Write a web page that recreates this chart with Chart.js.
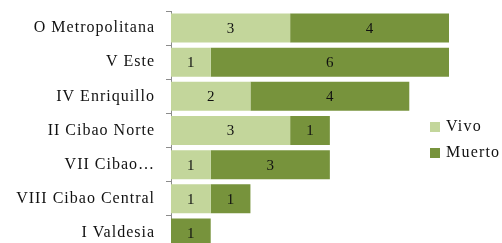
<!DOCTYPE html>
<html>
<head>
<meta charset="utf-8">
<script src="https://cdn.jsdelivr.net/npm/chart.js"></script>
<style>
  html, body { margin: 0; padding: 0; background: #fff; overflow: hidden; }
  #wrap { width: 502px; height: 260px; position: relative; }
</style>
</head>
<body>
<div id="wrap"><canvas id="myChart"></canvas></div>
<script>
const categories = ['O Metropolitana', 'V Este', 'IV Enriquillo', 'II Cibao Norte', 'VII Cibao…', 'VIII Cibao Central', 'I Valdesia'];
const vivo = [3, 1, 2, 3, 1, 1, null];
const muerto = [4, 6, 4, 1, 3, 1, 1];
const seriesNames = ['Vivo', 'Muerto'];
const xMax = 7;

const fontFamily = "'Liberation Serif', 'DejaVu Serif', serif";

// the original font is a wide garamond, so space the letters out a bit
const wideText = {
    id: 'wideText',
    beforeDraw(chart) {
        chart.ctx.letterSpacing = '1px';
    }
};

// values in the middle of each segment
const segmentLabels = {
    id: 'segmentLabels',
    afterDatasetsDraw(chart) {
        const ctx = chart.ctx;
        ctx.save();
        ctx.letterSpacing = '0px';
        ctx.font = '15px ' + fontFamily;
        ctx.fillStyle = '#111';
        ctx.textAlign = 'center';
        ctx.textBaseline = 'middle';
        chart.data.datasets.forEach((ds, i) => {
            chart.getDatasetMeta(i).data.forEach((bar, j) => {
                const v = ds.data[j];
                if (v == null) return;
                const cx = (bar.x + bar.base) / 2;
                ctx.fillText(String(v), cx, bar.y + 1);
            });
        });
        ctx.restore();
    }
};

// legend sits over the plot area, like the original
const sideLegend = {
    id: 'sideLegend',
    afterDraw(chart) {
        const ctx = chart.ctx;
        ctx.save();
        ctx.letterSpacing = '1.2px';
        ctx.font = '16px ' + fontFamily;
        ctx.textBaseline = 'middle';
        ctx.textAlign = 'left';
        chart.data.datasets.forEach((ds, i) => {
            const y = 127 + i * 26;
            ctx.fillStyle = ds.backgroundColor;
            ctx.fillRect(430, y - 5, 10, 10);
            ctx.fillStyle = '#111';
            ctx.fillText(ds.label, 446, y);
        });
        ctx.restore();
    }
};

new Chart(document.getElementById('myChart'), {
    type: 'bar',
    data: {
        labels: categories,
        datasets: [{
            label: seriesNames[0],
            data: vivo,
            backgroundColor: '#C3D69B',
            borderWidth: 0,
            categoryPercentage: 1,
            barPercentage: 0.85
        }, {
            label: seriesNames[1],
            data: muerto,
            backgroundColor: '#77933C',
            borderWidth: 0,
            categoryPercentage: 1,
            barPercentage: 0.85
        }]
    },
    options: {
        indexAxis: 'y',
        responsive: true,
        maintainAspectRatio: false,
        animation: false,
        layout: { padding: { top: 11, right: 53, bottom: 10, left: 0 } },
        plugins: {
            legend: { display: false },
            tooltip: { enabled: false }
        },
        scales: {
            x: {
                stacked: true,
                display: false,
                min: 0,
                max: xMax
            },
            y: {
                stacked: true,
                afterFit(scale) {
                    scale.width = 171;
                    scale.paddingTop = 0;
                    scale.paddingBottom = 0;
                },
                grid: {
                    drawOnChartArea: false,
                    drawTicks: true,
                    tickLength: 5,
                    offset: true,
                    color: '#8c8c8c'
                },
                border: { color: '#8c8c8c', width: 1 },
                ticks: {
                    padding: 11,
                    color: '#111',
                    font: { family: fontFamily, size: 16 }
                }
            }
        }
    },
    plugins: [wideText, segmentLabels, sideLegend]
});
</script>
</body>
</html>
